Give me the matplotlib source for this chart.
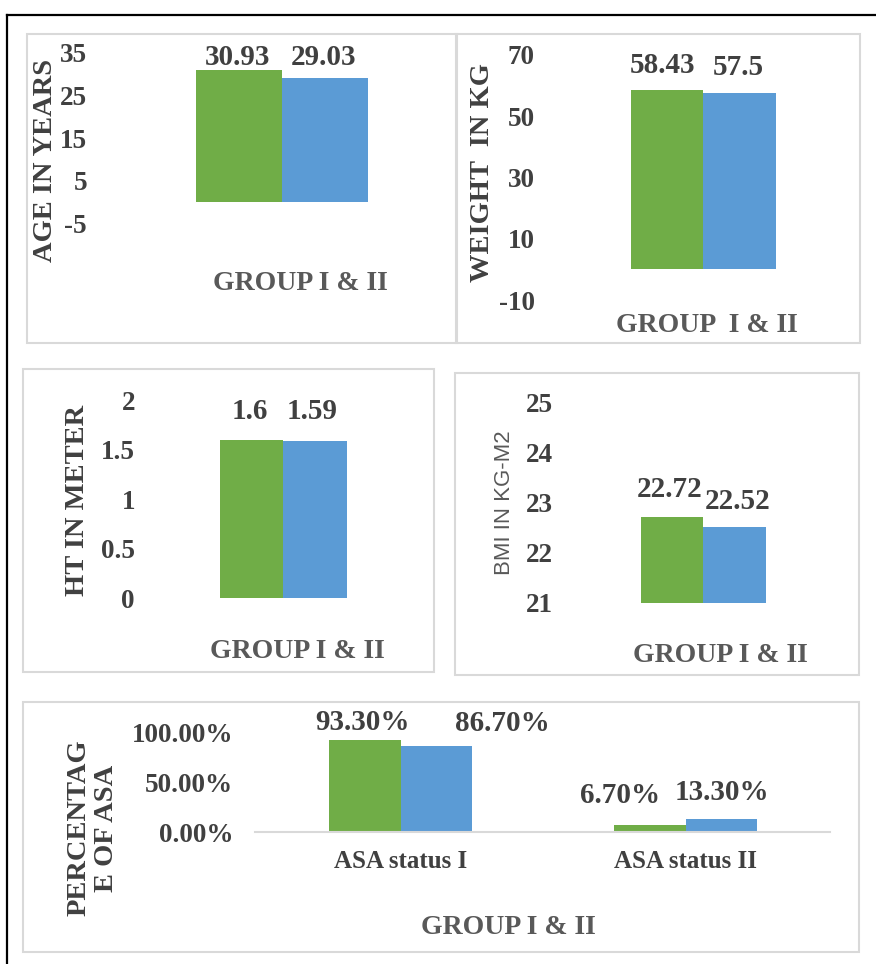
import matplotlib
matplotlib.use('Agg')
import matplotlib.pyplot as plt
from matplotlib.patches import Rectangle
from matplotlib.lines import Line2D

W, H = 876, 964

GREEN = '#70AD47'
BLUE = '#5B9BD5'
TXT = '#404040'
GREY = '#595959'
EDGE = '#D9D9D9'

# group I / group II means
age = [30.93, 29.03]
weight = [58.43, 57.5]
height = [1.6, 1.59]
bmi = [22.72, 22.52]

# ASA physical status, share of patients per group
asa_status = ['ASA status I', 'ASA status II']
asa_group1 = [0.933, 0.067]
asa_group2 = [0.867, 0.133]

age_ticks = [-5, 5, 15, 25, 35]
weight_ticks = [-10, 10, 30, 50, 70]
height_ticks = [0, 0.5, 1, 1.5, 2]
bmi_ticks = [21, 22, 23, 24, 25]
asa_ticks = [0, 0.5, 1.0]

plt.rcParams['font.family'] = ['Liberation Serif', 'DejaVu Serif']
plt.rcParams['font.weight'] = 'bold'

fig = plt.figure(figsize=(W / 100, H / 100), dpi=100)


def fx(x):
    return x / W


def fy(y):
    return 1 - y / H


def box(x0, y0, x1, y1):
    fig.patches.append(Rectangle((fx(x0), fy(y1)), (x1 - x0) / W, (y1 - y0) / H,
                                 transform=fig.transFigure, fill=False,
                                 ec=EDGE, lw=1.5))


def panel(rect, ylim, ticks, c0, unit, pad=5.8):
    left, top, right, bottom = rect
    ax = fig.add_axes([fx(left), fy(bottom), (right - left) / W, (bottom - top) / H])
    ax.set_xlim((left - c0) / unit, (right - c0) / unit)
    ax.set_ylim(ylim)
    ax.set_yticks(ticks)
    ax.patch.set_visible(False)
    for s in ax.spines.values():
        s.set_visible(False)
    ax.tick_params(length=0, labelsize=19.5, labelcolor=TXT, pad=pad)
    ax.set_xticks([])
    return ax


def bars(ax, x, g1, g2, bw, base=0):
    b1 = ax.bar([v - bw / 2 for v in x], [v - base for v in g1], bw, bottom=base,
                color=GREEN, linewidth=0)
    b2 = ax.bar([v + bw / 2 for v in x], [v - base for v in g2], bw, bottom=base,
                color=BLUE, linewidth=0)
    return b1, b2


def label(ax, x, y, text, dx, dy):
    ax.annotate(text, (x, y), xytext=(dx, dy), textcoords='offset pixels',
                ha='center', va='center', fontsize=21, color=TXT,
                fontweight='bold', annotation_clip=False)


def ytitle(x, y, text, **kw):
    opts = dict(rotation=90, ha='center', va='center', fontsize=20.5,
                color=TXT, fontweight='bold')
    opts.update(kw)
    fig.text(fx(x), fy(y), text, **opts)


def xtitle(x, y, text):
    fig.text(fx(x), fy(y), text, ha='center', va='center', fontsize=20,
             color=GREY, fontweight='bold')


# outer frame
fig.add_artist(Line2D([fx(7), 1], [fy(15), fy(15)], transform=fig.transFigure,
                      color='black', lw=1.6))
fig.add_artist(Line2D([fx(7), fx(7)], [fy(15), 0], transform=fig.transFigure,
                      color='black', lw=1.6))

# age
box(27, 34, 457, 343)
ax = panel((95, 53, 450, 223), (-5, 35), age_ticks, 282, 172)
bars(ax, [0], [age[0]], [age[1]], 0.5)
ax.set_yticklabels([f'{t:g}' for t in age_ticks])
label(ax, -0.25, age[0], f'{age[0]:g}', -1, 13)
label(ax, 0.25, age[1], f'{age[1]:g}', -2, 21)
ytitle(46, 160, 'AGE IN YEARS')
xtitle(300, 283, 'GROUP I & II')

# weight
box(456, 34, 860, 343)
ax = panel((543, 55, 855, 300), (-10, 70), weight_ticks, 703, 145)
bars(ax, [0], [weight[0]], [weight[1]], 0.5)
ax.set_yticklabels([f'{t:g}' for t in weight_ticks])
label(ax, -0.25, weight[0], f'{weight[0]:g}', -4, 25)
label(ax, 0.25, weight[1], f'{weight[1]:g}', -1, 26)
ytitle(482, 173, 'WEIGHT  IN KG')
xtitle(707, 325, 'GROUP  I & II')

# height
box(23, 369, 434, 672)
ax = panel((143, 400, 428, 598), (0, 2), height_ticks, 283, 127)
bars(ax, [0], [height[0]], [height[1]], 0.5)
ax.set_yticklabels([f'{t:g}' for t in height_ticks])
label(ax, -0.25, height[0], f'{height[0]:g}', -1, 28)
label(ax, 0.25, height[1], f'{height[1]:g}', -3, 29)
ytitle(77, 500, 'HT IN METER')
xtitle(297, 652, 'GROUP I & II')

# BMI
box(455, 373, 859, 675)
ax = panel((561, 402, 855, 603), (21, 25), bmi_ticks, 703, 125)
bars(ax, [0], [bmi[0]], [bmi[1]], 0.5, base=21)
ax.set_yticklabels([f'{t:g}' for t in bmi_ticks])
label(ax, -0.25, bmi[0], f'{bmi[0]:g}', -2, 27)
label(ax, 0.25, bmi[1], f'{bmi[1]:g}', 3, 25)
ytitle(505, 503, 'BMI IN KG-M2', fontsize=16, fontweight='normal', color=GREY,
       family=['Liberation Sans', 'DejaVu Sans'])
xtitle(720, 655, 'GROUP I & II')

# ASA status
box(23, 702, 859, 952)
ax = panel((255, 733, 830, 832), (0, 1), asa_ticks, 400.5, 285, pad=15.8)
xs = list(range(len(asa_status)))
bars(ax, xs, asa_group1, asa_group2, 0.25)
ax.set_yticklabels([f'{t * 100:.2f}%' for t in asa_ticks])
ax.set_xticks(xs)
ax.set_xticklabels(asa_status, fontsize=18)
ax.tick_params(axis='x', pad=13)
ax.spines['bottom'].set_visible(True)
ax.spines['bottom'].set_color(EDGE)
ax.spines['bottom'].set_linewidth(1.5)
nudges = [[(-2, 17), (66, 23)], [(-30, 30), (1, 26)]]
for i in xs:
    for j, vals in enumerate((asa_group1, asa_group2)):
        dx, dy = nudges[i][j]
        label(ax, i + (j - 0.5) * 0.25, vals[i], f'{vals[i] * 100:.2f}%', dx, dy)
ytitle(93, 828, 'PERCENTAG\nE OF ASA', multialignment='center', linespacing=1.1)
xtitle(508, 927, 'GROUP I & II')

fig.savefig('out.png', dpi=100, facecolor='white')
